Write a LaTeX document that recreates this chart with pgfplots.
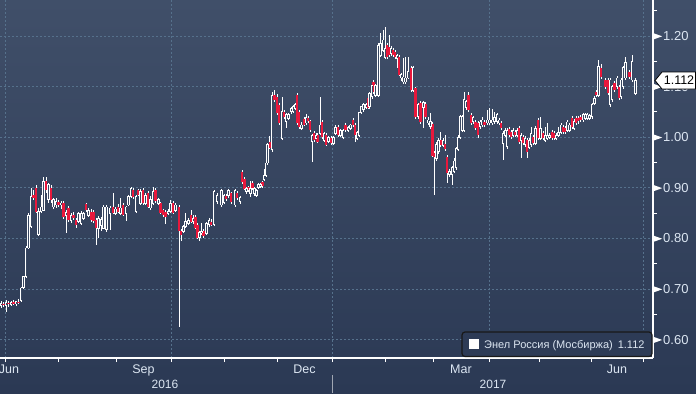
\documentclass[border=0pt]{standalone}
\usepackage{fontspec}
\setmainfont{Liberation Sans}
\usepackage{pgfplots}
\pgfplotsset{compat=1.18}
\usepackage{pgfplotstable}
\definecolor{bgtop}{HTML}{404F69}
\definecolor{bgbot}{HTML}{2B3954}
\definecolor{gridc}{HTML}{56718C}
\definecolor{candred}{HTML}{E8183C}
\definecolor{lbl}{HTML}{DCE6F2}
\definecolor{hollow}{HTML}{394862}
\definecolor{legfill}{HTML}{2D3B56}

\pgfplotstableread{
t o h l c
1 0.668 0.676 0.662 0.671
6 0.668 0.678 0.655 0.673
11 0.670 0.676 0.666 0.674
16 0.671 0.677 0.667 0.675
21 0.677 0.704 0.675 0.702
23.5 0.703 0.726 0.700 0.724
26 0.724 0.784 0.722 0.781
28.5 0.781 0.850 0.779 0.846
31 0.823 0.900 0.820 0.882
38.5 0.807 0.860 0.805 0.853
41 0.853 0.885 0.850 0.862
43.5 0.856 0.921 0.854 0.912
48.5 0.876 0.910 0.870 0.906
53.5 0.862 0.880 0.858 0.876
56 0.866 0.880 0.860 0.872
61 0.866 0.874 0.858 0.870
66 0.846 0.856 0.810 0.852
71 0.836 0.850 0.830 0.846
78.5 0.833 0.852 0.830 0.849
81 0.830 0.855 0.826 0.849
83.5 0.840 0.852 0.836 0.849
88.5 0.846 0.860 0.842 0.856
98.5 0.820 0.845 0.800 0.840
101 0.826 0.842 0.815 0.838
103.5 0.820 0.866 0.818 0.862
106.5 0.817 0.866 0.812 0.862
110 0.850 0.864 0.817 0.860
115.5 0.850 0.862 0.846 0.858
120.5 0.850 0.880 0.846 0.860
126 0.850 0.864 0.835 0.862
128.5 0.866 0.886 0.864 0.882
131 0.882 0.902 0.880 0.899
136 0.853 0.886 0.850 0.882
140.5 0.869 0.898 0.866 0.892
145.5 0.869 0.890 0.866 0.885
150.5 0.860 0.884 0.856 0.876
153 0.869 0.902 0.866 0.892
158.5 0.869 0.880 0.866 0.876
168 0.850 0.858 0.846 0.853
170.5 0.853 0.876 0.850 0.869
175.5 0.856 0.870 0.852 0.866
183.5 0.814 0.826 0.810 0.824
185.5 0.824 0.850 0.820 0.833
188.5 0.830 0.840 0.826 0.836
193 0.833 0.846 0.828 0.840
199.5 0.801 0.814 0.795 0.811
201.5 0.811 0.830 0.806 0.814
206.5 0.810 0.832 0.806 0.830
209 0.827 0.840 0.823 0.836
214 0.827 0.896 0.824 0.892
217 0.872 0.890 0.868 0.884
221.5 0.866 0.897 0.862 0.894
224 0.871 0.888 0.868 0.884
228.5 0.884 0.897 0.880 0.894
235 0.866 0.898 0.862 0.894
240 0.872 0.884 0.868 0.880
246.5 0.892 0.902 0.888 0.898
250.5 0.888 0.914 0.882 0.898
254.5 0.888 0.902 0.884 0.898
256.5 0.885 0.898 0.882 0.895
258.5 0.901 0.910 0.897 0.907
260.5 0.903 0.910 0.900 0.907
264 0.917 0.937 0.914 0.925
266 0.925 0.952 0.922 0.949
267.5 0.949 0.988 0.946 0.985
272 0.975 1.089 0.970 1.083
282 0.998 1.080 0.995 1.050
286 1.031 1.048 1.018 1.044
288.5 1.037 1.048 1.034 1.044
291 1.050 1.060 1.046 1.057
293 1.050 1.064 1.047 1.060
295 1.057 1.068 1.054 1.064
301.5 1.018 1.030 1.014 1.024
306 1.028 1.045 1.024 1.038
312 0.991 1.006 0.951 1.004
316 0.998 1.008 0.995 1.004
320 1.008 1.080 1.004 1.024
324 0.994 1.010 0.990 1.008
328.5 0.991 1.002 0.988 1.000
333.5 0.988 1.003 0.985 1.000
335.5 1.008 1.024 1.004 1.020
340.5 1.004 1.017 1.000 1.014
343 1.000 1.016 0.996 1.014
348 1.014 1.022 1.010 1.020
350.5 1.018 1.027 1.014 1.024
357 0.998 1.013 0.994 1.010
359 1.004 1.050 1.000 1.048
361 1.048 1.062 1.045 1.060
363.5 1.054 1.067 1.050 1.064
366 1.058 1.068 1.055 1.064
369.5 1.060 1.090 1.056 1.087
372 1.080 1.106 1.076 1.103
375.8 1.083 1.106 1.080 1.103
378.2 1.083 1.186 1.080 1.182
380.5 1.162 1.206 1.158 1.186
383 1.172 1.212 1.168 1.192
385 1.158 1.218 1.154 1.176
391 1.166 1.180 1.160 1.176
397 1.156 1.165 1.137 1.162
401 1.117 1.126 1.112 1.123
403 1.109 1.156 1.106 1.119
405.5 1.109 1.158 1.106 1.117
408 1.117 1.158 1.114 1.129
413 1.093 1.140 1.090 1.137
418 1.040 1.068 1.036 1.064
423.5 1.058 1.072 1.018 1.068
428 1.028 1.040 1.024 1.034
430.5 1.021 1.048 1.016 1.031
436.5 0.957 0.990 0.952 0.986
438.5 0.971 0.998 0.966 0.994
443 0.984 0.998 0.980 0.994
449.5 0.927 0.938 0.922 0.933
452 0.927 0.944 0.905 0.940
454 0.933 0.958 0.930 0.953
456 0.940 0.980 0.936 0.977
458 0.976 1.004 0.972 1.000
460 1.000 1.044 0.996 1.040
462 1.014 1.044 1.010 1.040
464 1.014 1.089 1.010 1.074
466 1.058 1.074 1.054 1.070
473 1.031 1.042 1.027 1.038
480 1.021 1.034 1.017 1.030
482 1.024 1.040 1.020 1.034
487 1.028 1.054 1.024 1.034
489.5 1.028 1.058 1.024 1.034
492 1.028 1.056 1.024 1.034
494.5 1.031 1.050 1.027 1.038
497 1.031 1.048 1.027 1.044
499 1.028 1.038 1.024 1.034
503 0.988 1.012 0.955 1.008
505 1.004 1.018 1.000 1.014
507 0.981 1.018 0.977 1.014
513 1.004 1.018 1.000 1.014
517 1.004 1.018 1.000 1.014
521 0.994 1.008 0.959 1.004
525 0.985 1.002 0.981 0.998
529 0.980 0.998 0.976 0.994
531 0.985 1.020 0.981 1.008
535.5 0.988 1.022 0.984 1.018
540.5 0.998 1.040 0.994 1.018
545 0.994 1.020 0.990 1.004
547 0.998 1.028 0.994 1.004
549.5 1.000 1.008 0.996 1.004
556 0.998 1.008 0.994 1.004
558.5 1.004 1.020 1.000 1.010
561 1.010 1.028 1.006 1.024
567 1.014 1.034 1.010 1.030
569.5 1.014 1.028 1.010 1.024
574 1.018 1.035 1.014 1.031
583 1.034 1.048 1.030 1.044
585 1.037 1.048 1.033 1.044
587 1.037 1.048 1.033 1.044
589.5 1.037 1.046 1.033 1.042
592 1.040 1.068 1.036 1.064
594.5 1.067 1.081 1.063 1.077
598.5 1.083 1.153 1.079 1.139
610 1.064 1.117 1.060 1.113
612 1.074 1.104 1.070 1.100
617 1.100 1.121 1.096 1.117
621 1.080 1.117 1.076 1.113
623 1.100 1.141 1.096 1.137
625.5 1.117 1.159 1.113 1.147
632 1.113 1.162 1.109 1.149
635.5 1.087 1.116 1.083 1.112
}\up

\pgfplotstableread{
t o h l c
3.5 0.671 0.675 0.664 0.668
8.5 0.673 0.677 0.665 0.670
13.5 0.674 0.678 0.668 0.671
18.5 0.675 0.680 0.670 0.673
33.5 0.886 0.895 0.875 0.880
36 0.900 0.905 0.850 0.853
46 0.913 0.921 0.890 0.896
51 0.899 0.905 0.870 0.876
58.5 0.872 0.876 0.862 0.866
63.5 0.869 0.873 0.838 0.843
68.5 0.860 0.864 0.832 0.836
73.5 0.846 0.852 0.836 0.840
76 0.836 0.840 0.820 0.826
86 0.867 0.870 0.852 0.856
91 0.853 0.858 0.832 0.836
93.5 0.852 0.856 0.830 0.834
96 0.836 0.840 0.787 0.820
113 0.863 0.890 0.848 0.850
118 0.863 0.868 0.850 0.853
123 0.866 0.870 0.844 0.847
133 0.895 0.900 0.878 0.882
138 0.895 0.898 0.884 0.886
143 0.895 0.899 0.866 0.869
148 0.889 0.893 0.860 0.863
155.5 0.895 0.900 0.870 0.873
160.5 0.869 0.872 0.848 0.850
163 0.856 0.858 0.842 0.846
165.5 0.853 0.856 0.828 0.843
173 0.869 0.873 0.848 0.850
179 0.863 0.866 0.625 0.814
181 0.814 0.818 0.795 0.807
191 0.846 0.856 0.830 0.833
195.3 0.843 0.846 0.818 0.820
197.5 0.827 0.830 0.798 0.801
203.5 0.814 0.818 0.800 0.804
211 0.833 0.838 0.824 0.827
226 0.884 0.887 0.874 0.878
231 0.890 0.892 0.868 0.872
237 0.890 0.893 0.876 0.879
242 0.931 0.935 0.908 0.911
244.5 0.918 0.922 0.895 0.898
248.5 0.902 0.904 0.892 0.896
252.5 0.909 0.913 0.896 0.899
262.5 0.911 0.914 0.900 0.903
269.8 0.990 1.003 0.976 0.978
274.3 1.083 1.093 1.070 1.073
277 1.080 1.085 1.044 1.047
279 1.064 1.068 1.025 1.028
284 1.050 1.054 1.036 1.040
297 1.083 1.088 1.025 1.028
299 1.050 1.054 1.016 1.020
304 1.035 1.040 1.022 1.025
308 1.038 1.042 1.028 1.031
310 1.031 1.034 1.011 1.014
314 1.008 1.012 0.990 0.994
317.5 1.004 1.008 0.988 0.991
322 1.030 1.034 0.997 1.000
326 1.004 1.008 0.982 0.985
331 0.998 1.002 0.985 0.988
338 1.020 1.024 1.000 1.004
345.5 1.024 1.028 1.010 1.014
353 1.034 1.038 1.020 1.024
355 1.024 1.028 0.990 1.004
368 1.077 1.080 1.055 1.058
373.5 1.109 1.113 1.086 1.089
387 1.182 1.186 1.154 1.158
389 1.178 1.202 1.158 1.162
393 1.172 1.176 1.158 1.162
395 1.168 1.172 1.154 1.158
399 1.158 1.162 1.120 1.123
411 1.137 1.141 1.090 1.093
415.5 1.097 1.100 1.036 1.040
420.5 1.068 1.072 1.026 1.030
425.5 1.066 1.070 1.036 1.040
432.5 1.026 1.030 0.960 0.963
434.5 0.969 0.972 0.886 0.961
440.5 0.995 1.010 0.980 0.984
445 0.987 1.005 0.972 0.976
447 0.960 0.964 0.910 0.930
468.5 1.083 1.090 1.050 1.054
471 1.044 1.048 1.024 1.028
475.5 1.030 1.034 1.014 1.018
478 1.028 1.032 0.998 1.004
484.5 1.030 1.034 1.020 1.024
501 1.028 1.032 1.014 1.018
509 1.017 1.021 1.000 1.004
511 1.010 1.014 0.996 1.000
515 1.010 1.014 1.000 1.004
519 1.018 1.022 0.987 0.991
523 1.000 1.004 0.984 0.988
527 0.994 0.998 0.959 0.971
533 1.000 1.004 0.985 0.989
538 1.034 1.038 0.994 0.998
543 1.008 1.012 0.994 0.998
552 1.010 1.014 0.994 0.998
554 1.008 1.012 0.994 0.998
563 1.020 1.024 1.006 1.010
565 1.018 1.022 1.006 1.010
572 1.038 1.042 1.016 1.020
576 1.038 1.042 1.024 1.028
578 1.038 1.042 1.027 1.031
580.5 1.040 1.044 1.030 1.034
596 1.089 1.093 1.079 1.083
601 1.137 1.145 1.115 1.119
605.5 1.113 1.117 1.096 1.100
608 1.113 1.117 1.083 1.087
614.5 1.107 1.111 1.089 1.093
619 1.100 1.104 1.073 1.077
629.5 1.129 1.133 1.115 1.119
}\dn

\begin{document}
\begin{tikzpicture}[x=1bp,y=1bp]
\useasboundingbox (0,-35) rectangle (696,358);
\clip (0,-35) rectangle (696,358);
\shade[top color=bgtop, bottom color=bgbot] (0,-35) rectangle (696,358);
\begin{axis}[
  at={(0,0)}, anchor=south west, scale only axis,
  width=653bp, height=358bp,
  xmin=0, xmax=653, ymin=0.5636, ymax=1.2711,
  axis x line*=bottom, axis y line*=right,
  axis line style={white, line width=1.3bp},
  xtick={5,171,332,489,643},
  minor xtick={58,116,224,277,385,433,539,591},
  xticklabels={},
  ytick={0.6,0.7,0.8,0.9,1.0,1.1,1.2},
  minor ytick={0.65,0.75,0.85,0.95,1.05,1.15,1.25},
  tick align=outside,
  major tick length=4bp, minor tick length=4bp,
  tick style={white, line width=1bp},
  xmajorgrids, ymajorgrids,
  major grid style={gridc, dash pattern=on 2bp off 2bp, line width=0.7bp},
  /pgf/number format/assume math mode=true,
  yticklabel={\tikz[baseline=-0.6ex]\fill[white] (0,-3.2bp)--(0,3.2bp)--(9bp,0)--cycle;\hspace{1bp}\pgfmathprintnumber[fixed,fixed zerofill,precision=2]{\tick}},
  yticklabel style={font=\fontsize{13bp}{15bp}\selectfont, text=lbl, anchor=west, inner sep=0pt, xshift=-4bp},
]
% wicks
\addplot[draw=none, forget plot, error bars/.cd, y dir=both, y explicit, error mark=none,
  error bar style={draw=white, line width=0.8bp, solid}]
  table[x=t, y=c, y error plus expr=\thisrow{h}-\thisrow{c}, y error minus expr=\thisrow{c}-\thisrow{l}] {\up};
\addplot[draw=none, forget plot, error bars/.cd, y dir=both, y explicit, error mark=none,
  error bar style={draw=white, line width=0.8bp, solid}]
  table[x=t, y=c, y error plus expr=\thisrow{h}-\thisrow{c}, y error minus expr=\thisrow{c}-\thisrow{l}] {\dn};
% down bodies
\addplot[draw=none, forget plot, error bars/.cd, y dir=both, y explicit, error mark=none,
  error bar style={draw=candred, line width=2.6bp, solid}]
  table[x=t, y expr=(\thisrow{o}+\thisrow{c})/2, y error expr=(\thisrow{o}-\thisrow{c})/2] {\dn};
% up bodies (hollow)
\addplot[draw=none, forget plot, error bars/.cd, y dir=both, y explicit, error mark=none,
  error bar style={draw=white, line width=2.8bp, solid}]
  table[x=t, y expr=(\thisrow{o}+\thisrow{c})/2, y error expr=(\thisrow{c}-\thisrow{o})/2+0.0009] {\up};
\addplot[draw=none, forget plot, error bars/.cd, y dir=both, y explicit, error mark=none,
  error bar style={draw=hollow, line width=1.0bp, solid}]
  table[x=t, y expr=(\thisrow{o}+\thisrow{c})/2, y error expr={max((\thisrow{c}-\thisrow{o})/2-0.0009,0)}] {\up};
\end{axis}
% month and year labels
\begin{scope}[every node/.style={text=lbl, font=\fontsize{12.5bp}{14bp}\selectfont, anchor=base, inner sep=0pt}]
\node at (9,-15) {Jun};
\node at (143.5,-15) {Sep};
\node at (304.5,-15) {Dec};
\node at (461,-15) {Mar};
\node at (617,-15) {Jun};
\node[font=\fontsize{12bp}{14bp}\selectfont] at (165,-30) {2016};
\node[font=\fontsize{12bp}{14bp}\selectfont] at (493,-30) {2017};
\end{scope}
\draw[color=white!55!bgbot, line width=1bp] (332,-17) -- (332,-35);
% legend
\draw[rounded corners=3bp, draw=black!90, fill=legfill, line width=1.2bp] (462,1.5) rectangle (652,26);
\fill[white] (469,9) rectangle (479,19);
\node[anchor=base west, inner sep=0pt, text=lbl, font=\fontsize{11bp}{13bp}\selectfont] at (484,9.5) {Энел Россия (Мосбиржа)\hspace{5bp}1.112};
% last value tag
\draw[fill=white, draw=black, line width=0.8bp] (655,277.5) -- (662,286) -- (695.5,286) -- (695.5,269) -- (662,269) -- cycle;
\node[inner sep=0pt, text=black, font=\fontsize{12.5bp}{14bp}\selectfont] at (679,277.5) {1.112};
\end{tikzpicture}
\end{document}
